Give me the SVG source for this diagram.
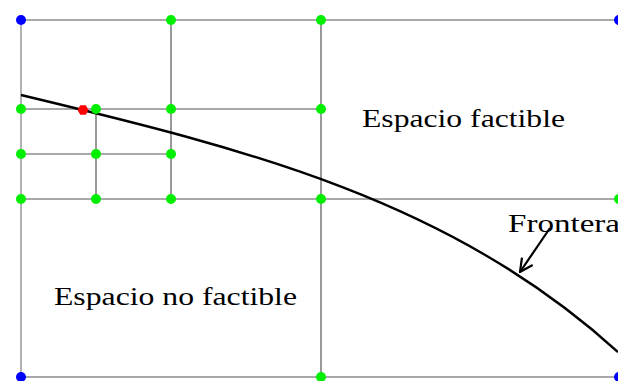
<svg xmlns="http://www.w3.org/2000/svg" width="618" height="381" viewBox="0 0 618 381">
<style>
.g{stroke:#555;stroke-width:1.2;fill:none}
.gl{stroke:#999;stroke-width:1.5;fill:none}
.t{font-family:"Liberation Serif",serif;font-size:26px;fill:#000}
.gr{fill:#00ee00}
.bl{fill:#0000ff}
</style>
<defs>
<marker id="ah" viewBox="0 0 16 16" refX="15" refY="8" markerWidth="16" markerHeight="16" markerUnits="userSpaceOnUse" orient="auto">
<path d="M2,1.5 L15,8 L2,14.5" fill="none" stroke="#000" stroke-width="2.2"/>
</marker>
</defs>
<g id="connectors">
<line class="g" x1="21" y1="20" x2="619" y2="20"/>
<line class="g" x1="21" y1="109" x2="321" y2="109"/>
<line class="g" x1="21" y1="154" x2="171" y2="154"/>
<line class="g" x1="21" y1="199" x2="619" y2="199"/>
<line class="g" x1="21" y1="377" x2="619" y2="377"/>
<line class="gl" x1="21" y1="20" x2="21" y2="377"/>
<line class="g" x1="96" y1="109" x2="96" y2="199"/>
<line class="g" x1="171" y1="20" x2="171" y2="199"/>
<line class="g" x1="321" y1="20" x2="321" y2="377"/>
<line class="g" x1="619" y1="20" x2="619" y2="377"/>
<path id="frontera-curve" d="M21,95 C250,150 450,200 618,352" fill="none" stroke="#000" stroke-width="2.4"/>
<line x1="550" y1="228" x2="520" y2="272" stroke="#000" stroke-width="2.2" marker-end="url(#ah)"/>
</g>
<g id="nodes">
<circle class="bl" cx="21" cy="20" r="5"/>
<circle class="bl" cx="619" cy="20" r="5"/>
<circle class="bl" cx="21" cy="377" r="5"/>
<circle class="bl" cx="619" cy="377" r="5"/>
<circle class="gr" cx="171" cy="20" r="5"/>
<circle class="gr" cx="321" cy="20" r="5"/>
<circle class="gr" cx="21" cy="109" r="5"/>
<circle class="gr" cx="96" cy="109" r="5"/>
<circle class="gr" cx="171" cy="109" r="5"/>
<circle class="gr" cx="321" cy="109" r="5"/>
<circle class="gr" cx="21" cy="154" r="5"/>
<circle class="gr" cx="96" cy="154" r="5"/>
<circle class="gr" cx="171" cy="154" r="5"/>
<circle class="gr" cx="21" cy="199" r="5"/>
<circle class="gr" cx="96" cy="199" r="5"/>
<circle class="gr" cx="171" cy="199" r="5"/>
<circle class="gr" cx="321" cy="199" r="5"/>
<circle class="gr" cx="619" cy="199" r="5"/>
<circle class="gr" cx="321" cy="377" r="5"/>
<polygon fill="#ff0000" points="88.5,110 85.8,114.8 80.3,114.8 77.5,110 80.3,105.2 85.8,105.2"/>
</g>
<g id="labels">
<text class="t" x="362" y="127" textLength="203" lengthAdjust="spacingAndGlyphs">Espacio factible</text>
<text class="t" x="54" y="305" textLength="243" lengthAdjust="spacingAndGlyphs">Espacio no factible</text>
<text class="t" x="508" y="232" textLength="112" lengthAdjust="spacingAndGlyphs">Frontera</text>
</g>
</svg>
